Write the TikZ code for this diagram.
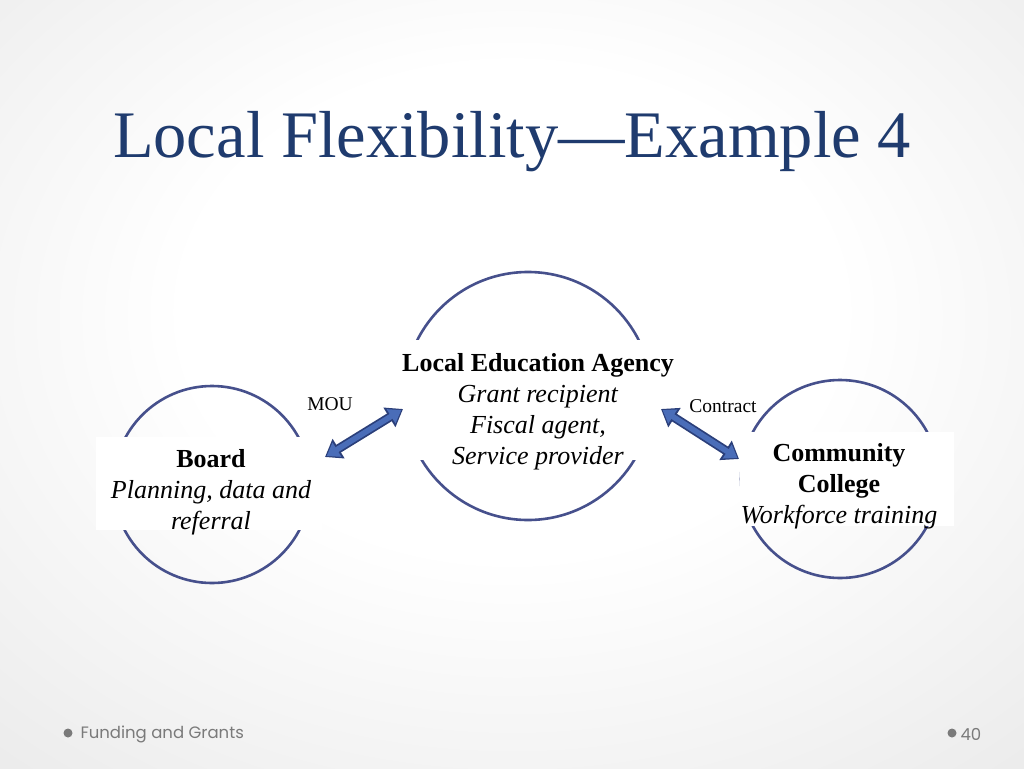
\documentclass[tikz,border=0pt]{standalone}
\usepackage{fontspec}
\setmainfont{Liberation Serif}
\newfontfamily\footfont{Poppins}
\usetikzlibrary{arrows.meta}
\definecolor{titleblue}{HTML}{1F3B6E}
\definecolor{ringblue}{HTML}{46508C}
\definecolor{arrowfill}{HTML}{4A6DB8}
\definecolor{arrowline}{HTML}{2B3F7A}
\definecolor{footgray}{HTML}{7A7A7A}
\pgfdeclareradialshading{slidebg}{\pgfpoint{0bp}{6bp}}{color(0bp)=(white); color(16bp)=(white); color(50bp)=(black!12); color(75bp)=(black!19)}

\begin{document}
\begin{tikzpicture}[x=1pt,y=-1pt,
  ring/.style={circle,draw=ringblue,line width=2.6pt,inner sep=0pt},
  cover/.style={fill=white,inner sep=0pt},
  label/.style={align=center,font=\fontsize{26}{31}\selectfont},
  tag/.style={font=\fontsize{19.5}{22}\selectfont},
  arrowedge/.style={line width=9pt,draw=arrowline,
    {Triangle[length=16pt,width=22pt]}-{Triangle[length=16pt,width=22pt]}},
  arrowbody/.style={line width=5.5pt,draw=arrowfill,shorten <=2pt,shorten >=2pt,
    {Triangle[length=12pt,width=16pt]}-{Triangle[length=12pt,width=16pt]}}]
% Background
\shade[shading=slidebg] (0,0) rectangle (1024,768);

% Title
\node[anchor=base,text=titleblue,font=\fontsize{66.5}{72}\selectfont] (title) at (512,157) {Local Flexibility—Example 4};

% Circles
\node[ring,minimum size=248] (lea-c) at (528,396) {};
\node[ring,minimum size=197] (board-c) at (212,484.5) {};
\node[ring,minimum size=198] (cc-c) at (840,479) {};

% Text boxes over the circles
\node[cover,minimum width=300,minimum height=120] (lea-box) at (528,400) {};
\node[cover,minimum width=226,minimum height=93] (board-box) at (209,483.5) {};
\node[cover,minimum width=214,minimum height=94] (cc-box) at (847,479) {};

% Labels
\node[label] (lea) at (538,412) {\textbf{Local Education Agency}\\\textit{Grant recipient}\\\textit{Fiscal agent,}\\\textit{Service provider}};
\node[label] (board) at (211,492) {\textbf{Board}\\\textit{Planning, data and}\\\textit{referral}};
\node[label] (cc) at (839,486.5) {\textbf{Community}\\\textbf{College}\\\textit{Workforce training}};

% Agreements
\coordinate (mou-s) at (325,457);
\coordinate (mou-e) at (403,409);
\coordinate (con-s) at (661,409);
\coordinate (con-e) at (739,459);
\draw[arrowedge] (mou-s) -- (mou-e);
\draw[arrowbody] (mou-s) -- (mou-e);
\draw[arrowedge] (con-s) -- (con-e);
\draw[arrowbody] (con-s) -- (con-e);
\node[tag] (mou) at (330,404) {MOU};
\node[tag] (contract) at (723,406) {Contract};

% Footer
\fill[footgray] (68,733) circle (4.5);
\node[anchor=west,text=footgray,font=\footfont\fontsize{16.5}{18}\selectfont] (foot) at (77,734) {Funding and Grants};
\fill[footgray] (952,733) circle (4.5);
\node[anchor=west,text=footgray,font=\footfont\fontsize{16.5}{18}\selectfont] (page) at (957,734) {40};
\end{tikzpicture}
\end{document}
